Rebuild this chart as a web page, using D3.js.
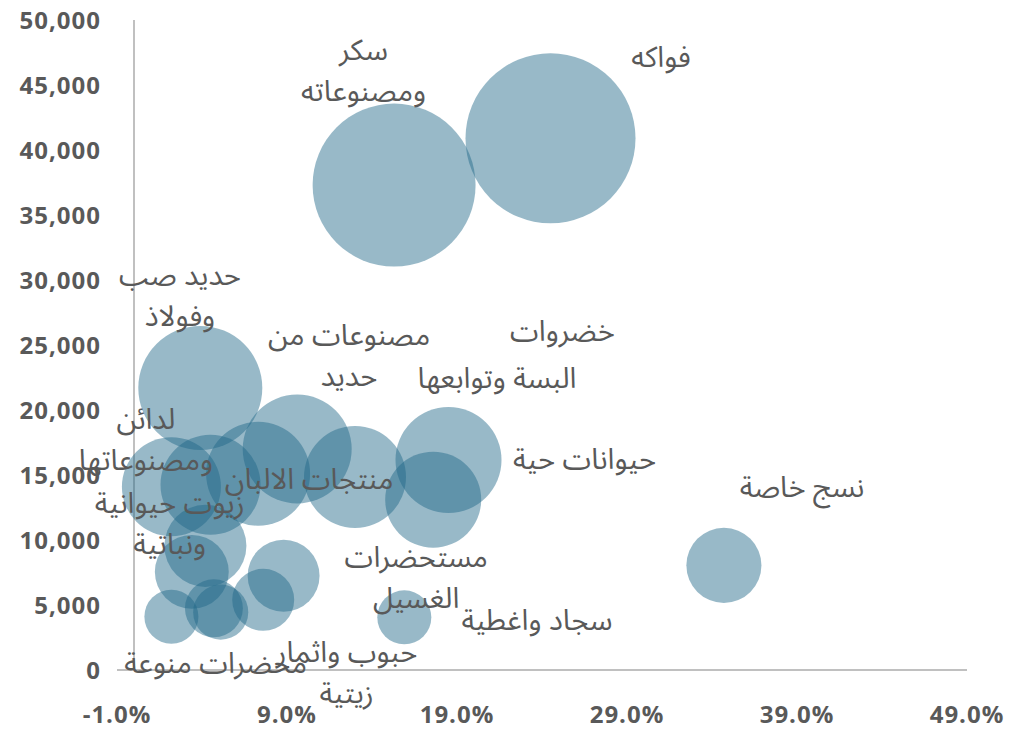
<!DOCTYPE html>
<html>
<head>
<meta charset="utf-8">
<script src="https://cdn.jsdelivr.net/npm/d3@7"></script>
<style>
  html, body { margin: 0; padding: 0; background: #ffffff; }
  svg { display: block; }
</style>
</head>
<body>
<svg id="chart" width="1011" height="729"></svg>
<script>
// ---- data ----
const growth = [24.5, 15.3, 3.9, 9.6, 7.3, 13.0, 18.5, 17.6, 34.7, 15.9, 2.2, 4.5, 4.2, 3.4, 8.8, 7.6, 4.7, 5.1, 2.2];
const values = [40900, 37300, 21700, 17000, 15100, 14850, 16150, 13100, 8050, 4050, 14100, 14250, 9550, 7550, 7250, 5400, 4750, 4450, 4100];
const sizes  = [1000, 919, 532, 411, 374, 360, 389, 319, 195, 101, 339, 346, 233, 189, 179, 133, 116, 105, 101];

const labelTexts = [
  "سكر\nومصنوعاته", "فواكه", "حديد صب\nوفولاذ", "مصنوعات من\nحديد", "خضروات",
  "البسة وتوابعها", "لدائن\nومصنوعاتها", "منتجات الالبان", "حيوانات حية", "نسج خاصة",
  "زيوت حيوانية\nونباتية", "مستحضرات\nالغسيل", "سجاد واغطية", "حبوب واثمار\nزيتية", "محضرات منوعة"
];
const labelGrowth = [13.5, 31.0, 2.7, 12.65, 25.2, 21.35, 0.7, 10.3, 26.5, 39.3, 2.1, 16.6, 23.7, 12.5, 4.8];
const labelValues = [46100, 47200, 28800, 24230, 26080, 22460, 17770, 14690, 16230, 14080, 11310, 7150, 3850, -150, 540];

const xTicks = [-1, 9, 19, 29, 39, 49];
const yTicks = [0, 5000, 10000, 15000, 20000, 25000, 30000, 35000, 40000, 45000, 50000];

// ---- layout ----
const svg = d3.select("#chart");
const x = d3.scaleLinear().domain([-1, 49]).range([117, 967]);
const y = d3.scaleLinear().domain([0, 50000]).range([670, 20]);
const r = d3.scaleSqrt().domain([0, d3.max(sizes)]).range([0, 85]);

const textColor = "#595959";
const axisColor = "#c0c0c0";
const tickFont = "'Open Sans', 'DejaVu Sans', sans-serif";

// axes lines
svg.append("line")
  .attr("x1", x(-1)).attr("x2", x(49))
  .attr("y1", y(0)).attr("y2", y(0))
  .attr("stroke", axisColor).attr("stroke-width", 2);
svg.append("line")
  .attr("x1", x(0)).attr("x2", x(0))
  .attr("y1", y(0)).attr("y2", y(50000))
  .attr("stroke", axisColor).attr("stroke-width", 2);

// y tick labels
svg.append("g").selectAll("text").data(yTicks).join("text")
  .attr("x", 101)
  .attr("y", d => y(d))
  .attr("dy", "0.36em")
  .attr("text-anchor", "end")
  .attr("font-family", tickFont)
  .attr("font-weight", 700)
  .attr("font-size", 24)
  .attr("letter-spacing", 1)
  .attr("fill", textColor)
  .text(d => d3.format(",")(d));

// x tick labels
svg.append("g").selectAll("text").data(xTicks).join("text")
  .attr("x", d => x(d))
  .attr("y", 723)
  .attr("text-anchor", "middle")
  .attr("font-family", tickFont)
  .attr("font-weight", 700)
  .attr("font-size", 24)
  .attr("letter-spacing", 1)
  .attr("fill", textColor)
  .text(d => d3.format(".1f")(d).replace("\u2212", "-") + "%");

// bubbles
const bubbles = growth.map((g, i) => ({ g, v: values[i], s: sizes[i] }))
  .sort((a, b) => b.s - a.s);
svg.append("g").selectAll("circle").data(bubbles).join("circle")
  .attr("cx", d => x(d.g))
  .attr("cy", d => y(d.v))
  .attr("r", d => r(d.s))
  .attr("fill", "#1f6688")
  .attr("fill-opacity", 0.46);

// labels
const lineH = 41;
const lab = svg.append("g").selectAll("text").data(labelTexts).join("text")
  .attr("x", (d, i) => x(labelGrowth[i]))
  .attr("y", (d, i) => y(labelValues[i]))
  .attr("text-anchor", "middle")
  .attr("direction", "rtl")
  .attr("font-family", "'Noto Sans Arabic', 'Noto Sans Arabic UI', 'DejaVu Sans', sans-serif")
  .attr("font-size", 29)
  .attr("fill", textColor);
lab.each(function(d, i) {
  const lines = d.split("\n");
  const t = d3.select(this);
  lines.forEach((ln, k) => {
    t.append("tspan")
      .attr("x", x(labelGrowth[i]))
      .attr("y", y(labelValues[i]) + (k - (lines.length - 1) / 2) * lineH)
      .attr("dy", "0.35em")
      .text(ln);
  });
});
</script>
</body>
</html>
